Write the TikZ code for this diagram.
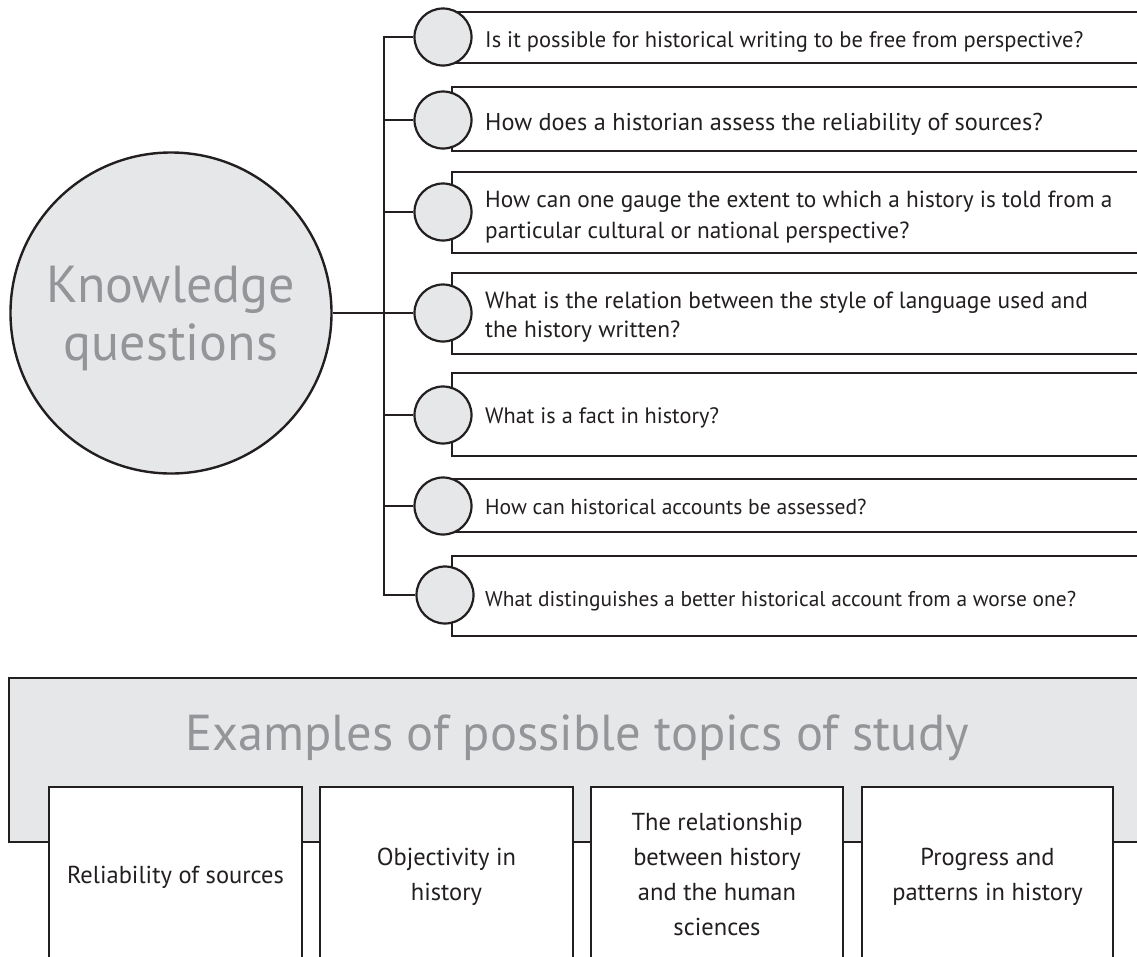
\documentclass[tikz,border=0pt]{standalone}
\usepackage{fontspec}
\setmainfont{PT Sans}
\usetikzlibrary{backgrounds}
\definecolor{ink}{HTML}{231F20}
\definecolor{lgray}{HTML}{E6E7E8}
\definecolor{tgray}{HTML}{939598}
\tikzset{
  conn/.style={draw=ink, line width=2.2pt},
  bigdot/.style={circle, draw=ink, fill=lgray, line width=2.4pt, minimum size=321pt, inner sep=0pt},
  dot/.style={circle, draw=ink, fill=lgray, line width=2.2pt, minimum size=57pt, inner sep=0pt},
  qbox/.style={draw=ink, fill=white, line width=2.2pt},
  qtext/.style={anchor=base west, inner sep=0pt, text=ink},
  tbox/.style={draw=ink, fill=white, line width=2.2pt},
  ttext/.style={anchor=base, inner sep=0pt, text=ink, font=\fontsize{24.5}{35}\selectfont},
  graytext/.style={anchor=base, inner sep=0pt, text=tgray},
}
\begin{document}
\begin{tikzpicture}[x=1pt,y=-1pt]
\useasboundingbox (0,0) rectangle (1137,956);
\clip (0,0) rectangle (1137,956);

% question boxes (open to the right edge)
\draw[qbox] (1160,12) -- (452,12) -- (452,63) -- (1160,63);
\draw[qbox] (1160,87) -- (452,87) -- (452,151) -- (1160,151);
\draw[qbox] (1160,172) -- (452,172) -- (452,253) -- (1160,253);
\draw[qbox] (1160,273) -- (452,273) -- (452,354) -- (1160,354);
\draw[qbox] (1160,373) -- (452,373) -- (452,456) -- (1160,456);
\draw[qbox] (1160,479) -- (452,479) -- (452,532) -- (1160,532);
\draw[qbox] (1160,556) -- (452,556) -- (452,636) -- (1160,636);

% question texts
\node[qtext, font=\fontsize{22.5}{31}\selectfont] (q1) at (485,47) {Is it possible for historical writing to be free from perspective?};
\node[qtext, font=\fontsize{24.3}{31}\selectfont] (q2) at (485,130) {How does a historian assess the reliability of sources?};
\node[qtext, font=\fontsize{23.3}{31}\selectfont] (q3) at (485,207) {\begin{tabular}[t]{@{}l@{}}How can one gauge the extent to which a history is told from a\\ particular cultural or national perspective?\end{tabular}};
\node[qtext, font=\fontsize{23.4}{29}\selectfont] (q4) at (485,308) {\begin{tabular}[t]{@{}l@{}}What is the relation between the style of language used and\\ the history written?\end{tabular}};
\node[qtext, font=\fontsize{22.3}{31}\selectfont] (q5) at (485,423) {What is a fact in history?};
\node[qtext, font=\fontsize{21.6}{31}\selectfont] (q6) at (485,514) {How can historical accounts be assessed?};
\node[qtext, font=\fontsize{21.4}{31}\selectfont] (q7) at (485,606) {What distinguishes a better historical account from a worse one?};

% big circle
\node[bigdot] (kq) at (171,313) {};
\node[graytext, font=\fontsize{52}{58}\selectfont] (kqt) at (171,302) {\begin{tabular}[t]{@{}c@{}}Knowledge\\ questions\end{tabular}};

% bus and branch points
\coordinate (b1) at (384,37);
\coordinate (b2) at (384,120);
\coordinate (b3) at (384,212);
\coordinate (b4) at (384,313);
\coordinate (b5) at (384,415);
\coordinate (b6) at (384,506);
\coordinate (b7) at (384,595);

% small circles
\node[dot] (c1) at (443,37) {};
\node[dot] (c2) at (443,120) {};
\node[dot] (c3) at (443,212) {};
\node[dot] (c4) at (443,313) {};
\node[dot] (c5) at (443,415) {};
\node[dot] (c6) at (443,506) {};
\node[dot] (c7) at (445,595) {};

% connectors behind the circles
\begin{scope}[on background layer]
\draw[conn] (kq.east) -- (b4);
\draw[conn, line join=miter] (c1.west) -- (b1) -- (b7) -- (c7.west);
\draw[conn] (b2) -- (c2.west);
\draw[conn] (b3) -- (c3.west);
\draw[conn] (b4) -- (c4.west);
\draw[conn] (b5) -- (c5.west);
\draw[conn] (b6) -- (c6.west);
\end{scope}

% bottom panel
\draw[draw=ink, fill=lgray, line width=2.2pt] (9,678) rectangle (1170,842);
\node[graytext, font=\fontsize{50.5}{56}\selectfont] (title) at (577,750) {Examples of possible topics of study};

\draw[tbox] (49,975) -- (49,787) -- (302,787) -- (302,975);
\draw[tbox] (320,975) -- (320,787) -- (573,787) -- (573,975);
\draw[tbox] (591,975) -- (591,787) -- (843,787) -- (843,975);
\draw[tbox] (862,975) -- (862,787) -- (1113,787) -- (1113,975);

\node[ttext] (t1) at (175.5,883) {Reliability of sources};
\node[ttext] (t2) at (446.5,865) {\begin{tabular}[t]{@{}c@{}}Objectivity in\\ history\end{tabular}};
\node[ttext] (t3) at (717,830) {\begin{tabular}[t]{@{}c@{}}The relationship\\ between history\\ and the human\\ sciences\end{tabular}};
\node[ttext] (t4) at (987.5,865) {\begin{tabular}[t]{@{}c@{}}Progress and\\ patterns in history\end{tabular}};
\end{tikzpicture}
\end{document}
